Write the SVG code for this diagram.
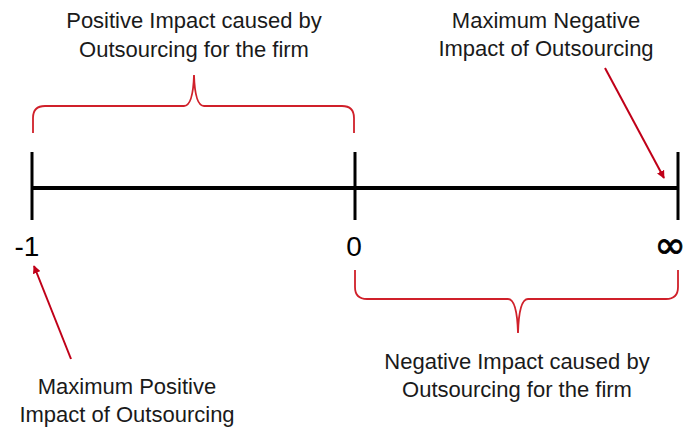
<svg xmlns="http://www.w3.org/2000/svg" width="687" height="432" viewBox="0 0 687 432">
<defs>
<style>
.lbl{font-family:"Liberation Sans",Arial,sans-serif;font-size:22px;fill:#1a1a1a;text-anchor:middle}
.num{font-family:"Liberation Sans",Arial,sans-serif;font-size:28px;fill:#000;text-anchor:middle}
.inf{font-family:"DejaVu Sans",sans-serif;font-size:38px;fill:#000;stroke:#000;stroke-width:0.8;text-anchor:end}
.axis{stroke:#000;stroke-width:4;fill:none}
.tick{stroke:#000;stroke-width:3;fill:none}
.brace{stroke:#d0202a;stroke-width:1.8;fill:none}
.arrow{stroke:#c00018;stroke-width:2;fill:none;marker-end:url(#ah)}
</style>
<marker id="ah" viewBox="0 0 10 10" refX="9" refY="5" markerWidth="4" markerHeight="4" orient="auto" markerUnits="strokeWidth">
<path d="M0,0 L10,5 L0,10 z" fill="#c00018"/>
</marker>
</defs>
<rect width="687" height="432" fill="#fff"/>
<g id="axis">
<line class="axis" x1="32" y1="188" x2="678" y2="188"/>
<line class="tick" x1="32" y1="152" x2="32" y2="220"/>
<line class="tick" x1="355" y1="152" x2="355" y2="220"/>
<line class="tick" x1="678" y1="152" x2="678" y2="220"/>
</g>
<g id="label-minus1"><text class="num" x="27" y="256">-1</text></g>
<g id="label-0"><text class="num" x="354" y="256">0</text></g>
<g id="label-inf"><text class="inf" x="686" y="258">∞</text></g>
<g id="positive-impact">
<path class="brace" d="M33,133 L33,118 Q33,106 45,106 L184,106 Q193,106 194,75 Q195,106 204,106 L342,106 Q354,106 354,118 L354,133"/>
<text class="lbl" x="194" y="28">Positive Impact caused by</text>
<text class="lbl" x="194" y="57">Outsourcing for the firm</text>
</g>
<g id="negative-impact">
<path class="brace" d="M355,270 L355,287 Q355,299 367,299 L508,299 Q517,299 518,333 Q519,299 528,299 L666,299 Q678,299 678,287 L678,270"/>
<text class="lbl" x="517" y="369">Negative Impact caused by</text>
<text class="lbl" x="517" y="397">Outsourcing for the firm</text>
</g>
<g id="max-negative">
<text class="lbl" x="546" y="28">Maximum Negative</text>
<text class="lbl" x="546" y="56">Impact of Outsourcing</text>
</g>
<g id="max-positive">
<text class="lbl" x="127" y="394">Maximum Positive</text>
<text class="lbl" x="127" y="422">Impact of Outsourcing</text>
</g>
<g id="connectors">
<line class="arrow" x1="605" y1="68" x2="664" y2="178"/>
<line class="arrow" x1="71" y1="359" x2="34" y2="266"/>
</g>
</svg>
